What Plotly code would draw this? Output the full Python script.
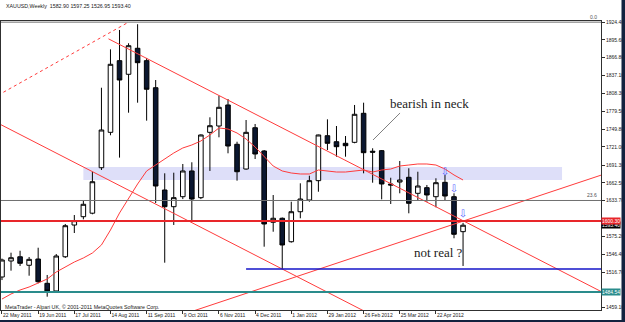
import plotly.graph_objects as go

# ---------------- data ----------------
bar_index = list(range(52))
opens = [1509.0, 1535.1, 1542.0, 1528.1, 1538.3, 1498.7, 1486.2, 1542.0, 1593.7, 1607.3,
         1613.0, 1687.1, 1744.8, 1861.6, 1839.4, 1881.8, 1861.6, 1817.5, 1650.8, 1623.6,
         1639.9, 1681.8, 1638.3, 1744.8, 1755.1, 1789.4, 1725.3, 1685.0, 1752.3, 1714.4,
         1598.2, 1604.7, 1566.5, 1615.4, 1634.5, 1666.0, 1739.3, 1729.5, 1726.9, 1728.5,
         1775.8, 1714.0, 1714.9, 1660.5, 1663.8, 1671.5, 1645.4, 1654.6, 1639.9, 1663.3,
         1639.9, 1582.90]
highs = [1539.0, 1548.6, 1551.8, 1541.6, 1556.7, 1512.3, 1546.5, 1595.4, 1610.0, 1633.4,
         1680.6, 1817.5, 1880.1, 1911.6, 1890.0, 1921.0, 1866.0, 1830.1, 1678.0, 1679.0,
         1693.2, 1696.0, 1741.5, 1769.3, 1804.5, 1799.1, 1729.5, 1764.9, 1758.4, 1716.0,
         1642.6, 1606.0, 1631.7, 1661.7, 1674.1, 1741.0, 1766.0, 1755.1, 1738.8, 1789.4,
         1793.1, 1718.8, 1716.0, 1670.8, 1698.1, 1686.2, 1680.6, 1659.0, 1669.9, 1675.3,
         1645.4, 1597.25]
lows = [1504.0, 1519.3, 1526.9, 1511.1, 1498.7, 1476.9, 1482.9, 1540.0, 1580.7, 1603.0,
        1611.2, 1683.4, 1740.0, 1703.6, 1776.8, 1793.1, 1763.8, 1629.6, 1532.3, 1593.8,
        1636.0, 1601.9, 1636.0, 1681.8, 1736.7, 1710.6, 1666.0, 1684.0, 1701.3, 1558.4,
        1582.8, 1521.5, 1565.0, 1604.7, 1631.7, 1648.0, 1716.0, 1705.1, 1705.1, 1727.0,
        1678.0, 1662.7, 1635.6, 1628.0, 1645.4, 1612.8, 1632.9, 1631.7, 1622.6, 1634.5,
        1572.1, 1526.95]
closes = [1536.7, 1540.4, 1531.3, 1537.8, 1501.3, 1486.2, 1543.2, 1592.6, 1600.8, 1627.5,
          1664.3, 1748.6, 1855.7, 1830.1, 1886.0, 1858.3, 1815.0, 1657.3, 1623.6, 1638.3,
          1681.8, 1636.1, 1740.5, 1755.6, 1785.6, 1722.5, 1680.6, 1744.8, 1709.5, 1595.4,
          1604.7, 1561.2, 1615.4, 1636.1, 1666.0, 1740.5, 1726.9, 1721.4, 1723.0, 1774.2,
          1711.6, 1712.5, 1660.6, 1659.0, 1667.1, 1629.1, 1657.3, 1642.7, 1662.7, 1641.0,
          1578.6, 1593.40]
ma_values = [1473.1, 1481.3, 1487.8, 1492.7, 1499.2, 1505.7, 1517.1, 1525.3, 1533.4, 1540.0,
             1548.1, 1561.2, 1585.6, 1613.3, 1637.8, 1660.6, 1681.8, 1691.6, 1701.3, 1711.1,
             1719.3, 1724.2, 1730.7, 1740.5, 1751.9, 1750.2, 1743.7, 1733.9, 1720.9, 1704.6,
             1689.9, 1681.8, 1678.5, 1676.9, 1676.9, 1683.4, 1681.8, 1680.1, 1680.1, 1681.8,
             1683.4, 1680.1, 1683.4, 1685.0, 1689.9, 1691.5, 1693.2, 1693.2, 1691.5, 1685.0,
             1675.3, 1667.1]

date_tick_bars = [0, 4, 8, 12, 16, 20, 24, 28, 32, 36, 40, 44, 48]
date_tick_labels = ["22 May 2011", "19 Jun 2011", "17 Jul 2011", "14 Aug 2011", "11 Sep 2011",
                    "9 Oct 2011", "6 Nov 2011", "4 Dec 2011", "1 Jan 2012", "29 Jan 2012",
                    "26 Feb 2012", "25 Mar 2012", "22 Apr 2012"]
price_ticks = [1924.40, 1895.60, 1866.80, 1837.10, 1808.30, 1779.50, 1749.80, 1721.00,
               1691.30, 1662.50, 1633.70, 1575.20, 1546.40, 1516.70, 1459.10]

fib_levels = [1924.40, 1633.70]
fib_level_names = ["0.0", "23.6"]
red_level = 1600.30
teal_level = 1484.54
blue_level = 1522.0
blue_start_bar = 27.0
last_close = 1593.40

fib_diag_x = [-1.0, 14.0]
fib_diag_y = [1800.6, 1924.4]
channel_upper_x = [11.78, 67.0]
channel_upper_y = [1897.2, 1479.8]
channel_lower_x = [-1.0, 42.0]
channel_lower_y = [1763.9, 1438.8]
rising_x = [20.0, 67.0]
rising_y = [1447.9, 1678.6]
zone_x = [9.0, 61.95]
zone_y = [1667.1, 1688.3]
pointer_x = [41.04, 44.03]
pointer_y = [1732.3, 1776.3]
arrow_bars = [49, 50, 51]
arrow_prices = [1680.1, 1652.4, 1611.0]
note_bearish = (42.7, 1791.0, "bearish in neck")
note_notreal = (45.35, 1549.7, "not real ?")

title_text = "XAUUSD,Weekly\u00a0\u00a01582.90 1597.25 1526.95 1593.40"
copyright_text = "MetaTrader - Alpari UK, \u00a9 2001-2011 MetaQuotes Software Corp."

# ---------------- figure ----------------
W, H = 625, 322
ML, MR, MT, MB = 1, 24, 21, 12
small_font = dict(family="Liberation Sans", size=5, color="#202020")
red = "#ff3b3b"

fig = go.Figure()

fig.add_trace(go.Candlestick(
    x=bar_index, open=opens, high=highs, low=lows, close=closes,
    increasing=dict(line=dict(color="#000000", width=1), fillcolor="#ffffff"),
    decreasing=dict(line=dict(color="#000000", width=1), fillcolor="#0b1730"),
    whiskerwidth=0, showlegend=False, hoverinfo="skip"))

fig.add_trace(go.Scatter(x=bar_index, y=ma_values, mode="lines",
                         line=dict(color=red, width=1), showlegend=False, hoverinfo="skip"))
fig.add_trace(go.Scatter(x=fib_diag_x, y=fib_diag_y, mode="lines",
                         line=dict(color=red, width=1, dash="dot"), showlegend=False, hoverinfo="skip"))
for xs, ys in [(channel_upper_x, channel_upper_y), (channel_lower_x, channel_lower_y), (rising_x, rising_y)]:
    fig.add_trace(go.Scatter(x=xs, y=ys, mode="lines", line=dict(color=red, width=1),
                             showlegend=False, hoverinfo="skip"))
fig.add_trace(go.Scatter(x=pointer_x, y=pointer_y, mode="lines", line=dict(color="#808080", width=1),
                         showlegend=False, hoverinfo="skip"))
fig.add_trace(go.Scatter(x=arrow_bars, y=arrow_prices, mode="text", text=["\u21e9"] * len(arrow_bars),
                         textfont=dict(family="DejaVu Sans", size=10, color="#5560ff"),
                         showlegend=False, hoverinfo="skip"))

shapes = [
    dict(type="rect", xref="x", yref="y", x0=zone_x[0], x1=zone_x[1], y0=zone_y[0], y1=zone_y[1],
         fillcolor="#dedff9", line=dict(width=0), layer="below"),
]
for lv in fib_levels:
    shapes.append(dict(type="line", xref="paper", yref="y", x0=0, x1=1, y0=lv, y1=lv,
                       line=dict(color="#707070", width=1)))
shapes.append(dict(type="line", xref="paper", yref="y", x0=0, x1=1, y0=red_level, y1=red_level,
                   line=dict(color="#e8262a", width=2)))
shapes.append(dict(type="line", xref="paper", yref="y", x0=0, x1=1, y0=teal_level, y1=teal_level,
                   line=dict(color="#2a8c8c", width=2)))
shapes.append(dict(type="line", xref="x", yref="y", x0=blue_start_bar, x1=67, y0=blue_level, y1=blue_level,
                   line=dict(color="#1414c8", width=1.5)))
# window border strips
pw = W - ML - MR
ph = H - MT - MB
shapes.append(dict(type="rect", xref="paper", yref="paper", x0=(621.5 - ML) / pw, x1=(626 - ML) / pw,
                   y0=-MB / ph - 0.01, y1=1 + MT / ph + 0.01, fillcolor="#13223f", line=dict(width=0)))
shapes.append(dict(type="rect", xref="paper", yref="paper", x0=-0.01, x1=(626 - ML) / pw,
                   y0=-MB / ph - 0.01, y1=-(320 - (H - MB)) / ph, fillcolor="#13223f", line=dict(width=0)))

annotations = []
for lv, nm in zip(fib_levels, fib_level_names):
    annotations.append(dict(xref="paper", yref="y", x=0.997, y=lv, text=nm, showarrow=False,
                            xanchor="right", yanchor="bottom", font=dict(family="Liberation Sans", size=5, color="#505050")))
for lv, col in [(last_close, "#000000"), (red_level, "#e8262a"), (teal_level, "#2a8c8c")]:
    annotations.append(dict(xref="paper", yref="y", x=1.0, y=lv, text=f"{lv:.2f}", showarrow=False,
                            xanchor="left", yanchor="middle", bgcolor=col, borderpad=0,
                            font=dict(family="Liberation Sans", size=5, color="#ffffff")))
for (nx, ny, nt) in [note_bearish, note_notreal]:
    annotations.append(dict(xref="x", yref="y", x=nx, y=ny, text=nt, showarrow=False,
                            xanchor="left", yanchor="middle",
                            font=dict(family="Liberation Serif", size=13, color="#222222")))
annotations.append(dict(xref="paper", yref="paper", x=(4 - ML) / pw, y=1 + (MT - 6) / ph, text=title_text,
                        showarrow=False, xanchor="left", yanchor="middle",
                        font=dict(family="Liberation Sans", size=5.3, color="#202020")))
annotations.append(dict(xref="paper", yref="paper", x=(3 - ML) / pw, y=(H - MB - 306.5) / ph, text=copyright_text,
                        showarrow=False, xanchor="left", yanchor="middle",
                        font=dict(family="Liberation Sans", size=5.3, color="#202020")))

axis_common = dict(showgrid=False, zeroline=False, showline=True, linecolor="#303030", linewidth=1,
                   mirror=True, ticks="outside", ticklen=3, tickwidth=1, tickcolor="#303030",
                   tickfont=small_font, fixedrange=True, automargin=False)

fig.update_layout(
    width=W, height=H, margin=dict(l=ML, r=MR, t=MT, b=MB, pad=0, autoexpand=False),
    paper_bgcolor="#ffffff", plot_bgcolor="#ffffff", showlegend=False,
    boxgap=0.28,
    xaxis=dict(range=[-0.11, 66.26], tickvals=date_tick_bars, ticktext=date_tick_labels,
               tickangle=0, ticklabelposition="outside right", rangeslider=dict(visible=False),
               **axis_common),
    yaxis=dict(range=[1455.2, 1926.27], side="right", tickvals=price_ticks,
               ticktext=[f"{v:.2f}" for v in price_ticks], **axis_common),
    shapes=shapes, annotations=annotations,
)

fig.write_html("out.html", config={"displayModeBar": False})
